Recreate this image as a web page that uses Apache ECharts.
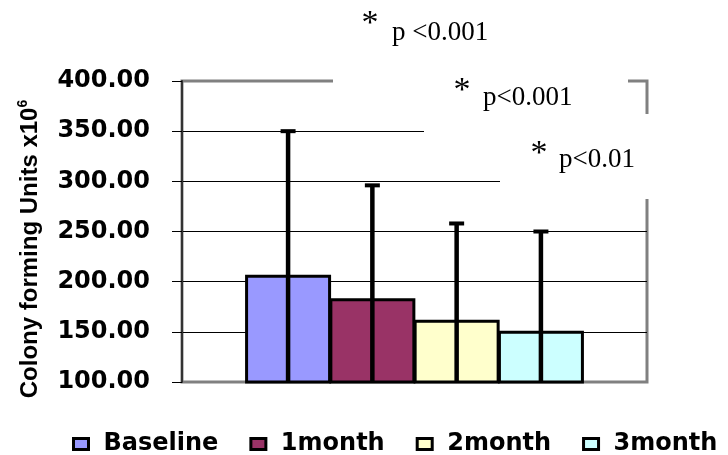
<!DOCTYPE html>
<html>
<head>
<meta charset="utf-8">
<script src="https://cdn.jsdelivr.net/npm/echarts@6/dist/echarts.min.js"></script>
<style>
html,body{margin:0;padding:0;background:#fff;}
#chart{width:728px;height:455px;}
</style>
</head>
<body>
<div id="chart"></div>
<script>
// ---- data ----
const categories = ['CFU'];
const seriesNames = ['Baseline', '1month', '2month', '3month'];
const means = [207, 183.5, 162, 151];
const errors = [143, 112.5, 96, 99];
const seriesColors = ['#9999FF', '#993366', '#FFFFCC', '#CCFFFF'];
const yMin = 100, yMax = 400, yStep = 50;
const yTitle = 'Colony forming Units x10';
const yTitleSup = '6';
const pLabels = ['p <0.001', 'p<0.001', 'p<0.01'];

const BAR_W = 86;
const BAR_GAP = -0.02;
const BAR_STEP = BAR_W * (1 + BAR_GAP);

const chart = echarts.init(document.getElementById('chart'), null, {renderer: 'canvas'});

const barSeries = seriesNames.map((n, i) => ({
  type: 'bar',
  name: n,
  data: [means[i]],
  barWidth: BAR_W,
  barGap: (BAR_GAP * 100) + '%',
  z: 2,
  itemStyle: {color: seriesColors[i], borderColor: '#000', borderWidth: 3}
}));

const errSeries = {
  type: 'custom',
  name: 'err',
  z: 5,
  data: means.map((m, i) => [0, m, errors[i], i]),
  encode: {x: 0, y: 1},
  renderItem: function (params, api) {
    const i = api.value(3);
    const m = api.value(1), e = api.value(2);
    const top = api.coord([0, m + e]);
    const bot = api.coord([0, Math.max(m - e, yMin)]);
    const x = top[0] + (i - (seriesNames.length - 1) / 2) * BAR_STEP;
    return {
      type: 'group',
      children: [
        {type: 'line', shape: {x1: x, y1: bot[1], x2: x, y2: top[1]}, style: {stroke: '#000', lineWidth: 4.5}},
        {type: 'line', shape: {x1: x - 7.5, y1: top[1], x2: x + 7.5, y2: top[1]}, style: {stroke: '#000', lineWidth: 4}}
      ]
    };
  }
};

const serif = '"Liberation Serif", "Times New Roman", serif';

const option = {
  animation: false,
  backgroundColor: '#fff',
  grid: {left: 182, right: 81, top: 81, bottom: 73, show: true, borderColor: '#808080', borderWidth: 3, backgroundColor: 'transparent'},
  legend: {
    data: seriesNames,
    left: 67,
    top: 427,
    icon: 'rect',
    itemWidth: 15,
    itemHeight: 11,
    itemGap: 31,
    itemStyle: {borderColor: '#000', borderWidth: 3},
    textStyle: {fontFamily: '"DejaVu Sans"', fontWeight: 'bold', fontSize: 24, color: '#000', padding: [0, 0, 0, 10]}
  },
  xAxis: {
    type: 'category',
    data: categories,
    axisLine: {show: false},
    axisTick: {show: false},
    axisLabel: {show: false},
    splitLine: {show: false}
  },
  yAxis: {
    type: 'value',
    min: yMin,
    max: yMax,
    interval: yStep,
    axisLine: {show: true, lineStyle: {color: '#333', width: 2}},
    axisTick: {show: true, inside: false, length: 10, lineStyle: {color: '#000', width: 1}},
    axisLabel: {
      margin: 32,
      fontFamily: '"DejaVu Sans"',
      fontWeight: 'bold',
      fontSize: 24,
      color: '#000',
      formatter: v => v.toFixed(2)
    },
    splitLine: {show: true, lineStyle: {color: ['#808080', '#000', '#000', '#000', '#000', '#000', '#808080'], width: 1}}
  },
  graphic: [
    // white text boxes hiding parts of grid lines / border
    {type: 'rect', z: 50, shape: {x: 333, y: 55, width: 295, height: 40}, style: {fill: '#fff'}},
    {type: 'rect', z: 50, shape: {x: 424, y: 114, width: 240, height: 46}, style: {fill: '#fff'}},
    {type: 'rect', z: 50, shape: {x: 500, y: 160, width: 164, height: 39}, style: {fill: '#fff'}},
    // annotations
    {type: 'text', z: 60, x: 370, y: 24, style: {text: '*', font: '34px ' + serif, fill: '#000', align: 'center', verticalAlign: 'middle'}},
    {type: 'text', z: 60, x: 392, y: 33, style: {text: pLabels[0], font: '27px ' + serif, fill: '#000', align: 'left', verticalAlign: 'middle'}},
    {type: 'text', z: 60, x: 462, y: 91, style: {text: '*', font: '34px ' + serif, fill: '#000', align: 'center', verticalAlign: 'middle'}},
    {type: 'text', z: 60, x: 483, y: 98, style: {text: pLabels[1], font: '27px ' + serif, fill: '#000', align: 'left', verticalAlign: 'middle'}},
    {type: 'text', z: 60, x: 539, y: 154, style: {text: '*', font: '34px ' + serif, fill: '#000', align: 'center', verticalAlign: 'middle'}},
    {type: 'text', z: 60, x: 559, y: 160, style: {text: pLabels[2], font: '27px ' + serif, fill: '#000', align: 'left', verticalAlign: 'middle'}},
    // y-axis title
    {
      type: 'text', z: 60, x: 30, y: 249, rotation: Math.PI / 2,
      style: {
        text: '{a|' + yTitle + '}{s|' + yTitleSup + '}',
        align: 'center', verticalAlign: 'middle',
        rich: {
          a: {fontFamily: '"Liberation Sans", Arial, sans-serif', fontWeight: 'bold', fontSize: 24, lineHeight: 28, fill: '#000', color: '#000'},
          s: {fontFamily: '"Liberation Sans", Arial, sans-serif', fontWeight: 'bold', fontSize: 14, lineHeight: 14, verticalAlign: 'top', fill: '#000', color: '#000'}
        }
      }
    }
  ],
  series: barSeries.concat([errSeries])
};

chart.setOption(option);
</script>
</body>
</html>
